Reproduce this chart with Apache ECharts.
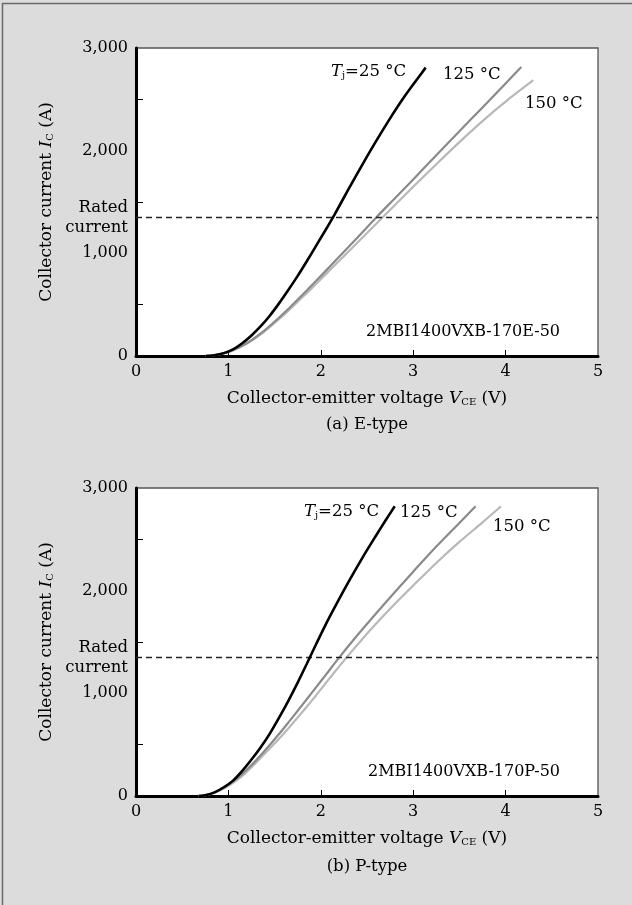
<!DOCTYPE html>
<html>
<head>
<meta charset="utf-8">
<script src="https://cdn.jsdelivr.net/npm/echarts@6/dist/echarts.min.js"></script>
<style>
html,body{margin:0;padding:0;background:#dcdcdc;}
#chart{width:632px;height:905px;}
</style>
</head>
<body>
<div id="chart"></div>
<script>
// ---- Data (V_CE in volts, I_C in amperes) ----
const xTicks = [0, 1, 2, 3, 4, 5];
const yTicks = [0, 1000, 2000, 3000];
const yMinorTicks = [500, 1500, 2500];
const ratedCurrent = 1350;

const seriesNames = ['Tj=25 °C', '125 °C', '150 °C'];

// (a) E-type  2MBI1400VXB-170E-50
const eType25 = [[0.75,0],[0.85,8],[0.95,28],[1.05,65],[1.15,125],[1.25,200],[1.35,290],[1.45,395],[1.55,515],[1.65,645],[1.75,780],[1.85,925],[1.95,1075],[2.05,1225],[2.15,1380],[2.3,1625],[2.45,1865],[2.6,2095],[2.75,2315],[2.9,2520],[3.05,2705],[3.135,2809]];
const eType125 = [[0.75,0],[0.85,8],[0.95,27],[1.05,58],[1.15,100],[1.25,155],[1.35,220],[1.45,295],[1.55,375],[1.65,460],[1.75,550],[1.85,640],[1.95,732],[2.1,873],[2.25,1015],[2.4,1157],[2.6,1350],[2.8,1535],[3.0,1720],[3.25,1955],[3.5,2190],[3.75,2420],[4.0,2655],[4.17,2815]];
const eType150 = [[0.75,0],[0.85,8],[0.95,26],[1.05,55],[1.15,96],[1.25,148],[1.35,210],[1.45,283],[1.55,360],[1.65,442],[1.75,528],[1.85,615],[1.95,703],[2.1,838],[2.25,973],[2.4,1108],[2.6,1288],[2.8,1468],[3.0,1648],[3.25,1868],[3.5,2083],[3.75,2288],[4.0,2478],[4.3,2686]];

// (b) P-type  2MBI1400VXB-170P-50
const pType25 = [[0.675,0],[0.75,8],[0.85,35],[0.95,85],[1.05,150],[1.15,245],[1.25,355],[1.35,475],[1.45,610],[1.55,765],[1.65,930],[1.75,1105],[1.85,1290],[1.95,1480],[2.05,1665],[2.15,1837],[2.3,2085],[2.45,2320],[2.6,2540],[2.7,2683],[2.8,2822]];
const pType125 = [[0.675,0],[0.75,8],[0.85,35],[0.95,80],[1.05,140],[1.15,215],[1.25,302],[1.35,398],[1.45,500],[1.55,606],[1.65,717],[1.75,830],[1.85,945],[1.95,1060],[2.05,1175],[2.2,1350],[2.4,1570],[2.6,1780],[2.8,1985],[3.0,2185],[3.25,2430],[3.5,2660],[3.675,2822]];
const pType150 = [[0.675,0],[0.75,8],[0.85,32],[0.95,72],[1.05,128],[1.15,195],[1.25,280],[1.35,372],[1.45,465],[1.55,560],[1.65,660],[1.75,765],[1.85,872],[1.95,982],[2.05,1095],[2.15,1208],[2.3,1372],[2.45,1530],[2.6,1680],[2.8,1870],[3.0,2050],[3.25,2270],[3.5,2475],[3.75,2665],[3.95,2822]];

const panelTitles = ['(a) E-type', '(b) P-type'];
const modelNames = ['2MBI1400VXB-170E-50', '2MBI1400VXB-170P-50'];

// ---- Styles ----
const FONT = 'DejaVu Serif';
const FS = 16.5;      // general text
const FS_TICK = 16;   // tick labels
const FS_NAME = 17;   // axis titles
const FS_MODEL = 16;
const colors = ['#000000', '#8a8a8a', '#b8b8b8'];
const widths = [2.6, 2.2, 2.2];

const gridTops = [48, 488];
const GH = 308, GL = 136, GW = 462;

const chart = echarts.init(document.getElementById('chart'), null, {renderer: 'canvas'});

function richFor(size) {
  return {
    i: {fontFamily: FONT, fontSize: size, fontStyle: 'italic', color: '#000'},
    s: {fontFamily: FONT, fontSize: Math.round(size * 0.6), color: '#000', verticalAlign: 'bottom', lineHeight: size},
    n: {fontFamily: FONT, fontSize: size, color: '#000'}
  };
}

function fmt(v){ return v.toLocaleString('en-US'); }

const grids = [], xAxes = [], yAxes = [], series = [], graphics = [];
const panels = [[eType25, eType125, eType150], [pType25, pType125, pType150]];

for (let p = 0; p < 2; p++) {
  grids.push({left: GL, top: gridTops[p], width: GW, height: GH, show: true,
    backgroundColor: '#ffffff', borderColor: '#555', borderWidth: 1.3});
  xAxes.push({
    gridIndex: p, type: 'value', min: xTicks[0], max: xTicks[xTicks.length-1], interval: 1,
    axisLine: {show: true, onZero: false, lineStyle: {color: '#000', width: 3}},
    axisTick: {show: true, inside: true, length: 6, customValues: [1,2,3,4], lineStyle: {color: '#000', width: 1}},
    axisLabel: {show: true, customValues: xTicks, fontFamily: FONT, fontSize: FS_TICK, color: '#000', margin: 8},
    splitLine: {show: false},
    name: '{n|Collector-emitter voltage }{i|V}{s|CE}{n| (V)}',
    nameLocation: 'middle', nameGap: 34,
    nameTextStyle: {fontFamily: FONT, fontSize: FS_NAME, color: '#000', rich: richFor(FS_NAME)}
  });
  yAxes.push({
    gridIndex: p, type: 'value', min: 0, max: 3000, interval: 1000,
    axisLine: {show: true, onZero: false, lineStyle: {color: '#000', width: 3}},
    axisTick: {show: true, inside: true, length: 7, customValues: yMinorTicks, lineStyle: {color: '#000', width: 1}},
    axisLabel: {show: true, customValues: yTicks, formatter: fmt, fontFamily: FONT, fontSize: FS_TICK, color: '#000', margin: 8},
    splitLine: {show: false},
    name: '{n|Collector current }{i|I}{s|C}{n| (A)}',
    nameLocation: 'middle', nameGap: 81, nameRotate: 90,
    nameTextStyle: {fontFamily: FONT, fontSize: FS_NAME, color: '#000', rich: richFor(FS_NAME)}
  });
  for (let s = 0; s < 3; s++) {
    const ser = {
      type: 'line', name: seriesNames[s], xAxisIndex: p, yAxisIndex: p,
      data: panels[p][s], showSymbol: false, symbol: 'none',
      smooth: 0.3,
      lineStyle: {color: colors[s], width: widths[s]},
      z: 5 - s, animation: false
    };
    if (s === 0) {
      ser.markLine = {
        silent: true, symbol: ['none', 'none'], animation: false,
        lineStyle: {type: [6, 4], color: '#222', width: 1.3},
        label: {show: true, position: 'start', formatter: 'Rated\ncurrent', fontFamily: FONT,
          fontSize: FS, color: '#000', distance: 8, lineHeight: 20, align: 'right'},
        data: [{yAxis: ratedCurrent}]
      };
    }
    series.push(ser);
  }
}

// Curve labels and panel captions
const labelPos = [
  {tj: [331, 72], t125: [443, 75], t150: [525, 104], model: [560, 332], cap: [367, 425]},
  {tj: [304, 512], t125: [400, 513], t150: [493, 527], model: [560, 772], cap: [367, 867]}
];
const fontStr = FS + 'px "' + FONT + '"';
for (let p = 0; p < 2; p++) {
  const L = labelPos[p];
  graphics.push({type: 'text', x: L.tj[0], y: L.tj[1], z: 100, style: {
    text: '{i|T}{s|j}{n|=25 °C}', rich: richFor(FS), font: fontStr, fill: '#000', verticalAlign: 'middle'}});
  graphics.push({type: 'text', x: L.t125[0], y: L.t125[1], z: 100, style: {
    text: '125 °C', font: fontStr, fill: '#000', verticalAlign: 'middle'}});
  graphics.push({type: 'text', x: L.t150[0], y: L.t150[1], z: 100, style: {
    text: '150 °C', font: fontStr, fill: '#000', verticalAlign: 'middle'}});
  graphics.push({type: 'text', x: L.model[0], y: L.model[1], z: 100, style: {
    text: modelNames[p], font: FS_MODEL + 'px "' + FONT + '"', fill: '#000', align: 'right', verticalAlign: 'middle'}});
  graphics.push({type: 'text', x: L.cap[0], y: L.cap[1], z: 100, style: {
    text: panelTitles[p], font: fontStr, fill: '#000', align: 'center', verticalAlign: 'middle'}});
}
// outer frame lines (top and left)
graphics.push({type: 'line', shape: {x1: 2, y1: 3.5, x2: 632, y2: 3.5}, style: {stroke: '#6a6a6a', lineWidth: 1.5}});
graphics.push({type: 'line', shape: {x1: 2.5, y1: 3, x2: 2.5, y2: 905}, style: {stroke: '#6a6a6a', lineWidth: 1.5}});

chart.setOption({
  backgroundColor: '#dcdcdc',
  animation: false,
  grid: grids, xAxis: xAxes, yAxis: yAxes, series: series,
  graphic: graphics
});
</script>
</body>
</html>
